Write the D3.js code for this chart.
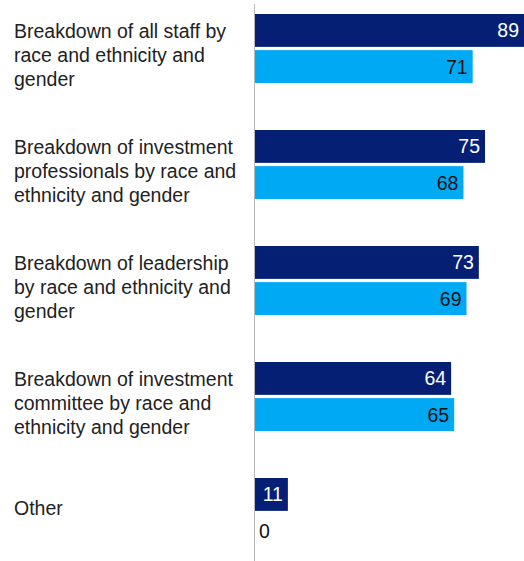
<!DOCTYPE html>
<html>
<head>
<meta charset="utf-8">
<script src="https://cdn.jsdelivr.net/npm/d3@7"></script>
<style>
  body { margin: 0; background: #fff; }
  text { font-family: "Liberation Sans", Arial, sans-serif; }
</style>
</head>
<body>
<div id="chart"></div>
<script>
var categories = [
    ["Breakdown of all staff by", "race and ethnicity and", "gender"],
    ["Breakdown of investment", "professionals by race and", "ethnicity and gender"],
    ["Breakdown of leadership", "by race and ethnicity and", "gender"],
    ["Breakdown of investment", "committee by race and", "ethnicity and gender"],
    ["Other"]
];
var seriesA = [89, 75, 73, 64, 11];
var seriesB = [71, 68, 69, 65, 0];
var colors = ['#051f75', '#00a9f4'];

var width = 524, height = 561;
var svg = d3.select('#chart')
    .append('svg')
    .attr('width', width)
    .attr('height', height);

var x = d3.scaleLinear()
    .domain([0, 100])
    .range([254, 562]);

var y = d3.scaleBand()
    .domain(d3.range(categories.length))
    .range([14, 594])
    .paddingInner(0);

var inner = d3.scaleBand()
    .domain([0, 1])
    .range([0, 69])
    .paddingInner(0.09);

// vertical axis line
svg.append('line')
    .attr('x1', x(0) + 0.5)
    .attr('x2', x(0) + 0.5)
    .attr('y1', 4)
    .attr('y2', height)
    .attr('stroke', '#b8b8b8')
    .attr('stroke-width', 1);

var groups = svg.selectAll('g.grp')
    .data(categories)
    .enter()
    .append('g')
    .attr('class', 'grp')
    .attr('transform', function(d, i) { return 'translate(0,' + y(i) + ')'; });

// category labels
groups.each(function(lines, i) {
    var g = d3.select(this);
    var t = g.append('text')
        .attr('x', 14)
        .attr('fill', '#222')
        .style('font-size', '19.5px');
    var startY = lines.length > 1 ? 24 : 37;
    lines.forEach(function(l, j) {
        t.append('tspan')
            .attr('x', 14)
            .attr('y', startY + j * 24)
            .text(l);
    });
});

[seriesA, seriesB].forEach(function(series, s) {
    groups.append('rect')
        .attr('x', x(0) + 1)
        .attr('y', inner(s))
        .attr('height', inner.bandwidth())
        .attr('width', function(d, i) { return Math.max(0, x(series[i]) - x(0) - 1); })
        .attr('fill', colors[s]);

    groups.append('text')
        .attr('x', function(d, i) {
            return series[i] > 0 ? Math.min(x(series[i]), width) - 5 : x(0) + 5;
        })
        .attr('y', inner(s) + inner.bandwidth() / 2)
        .attr('dy', '0.36em')
        .attr('text-anchor', function(d, i) { return series[i] > 0 ? 'end' : 'start'; })
        .attr('fill', function(d, i) { return (s === 0 && series[i] > 0) ? '#fff' : '#111'; })
        .style('font-size', '19.5px')
        .text(function(d, i) { return series[i]; });
});
</script>
</body>
</html>
